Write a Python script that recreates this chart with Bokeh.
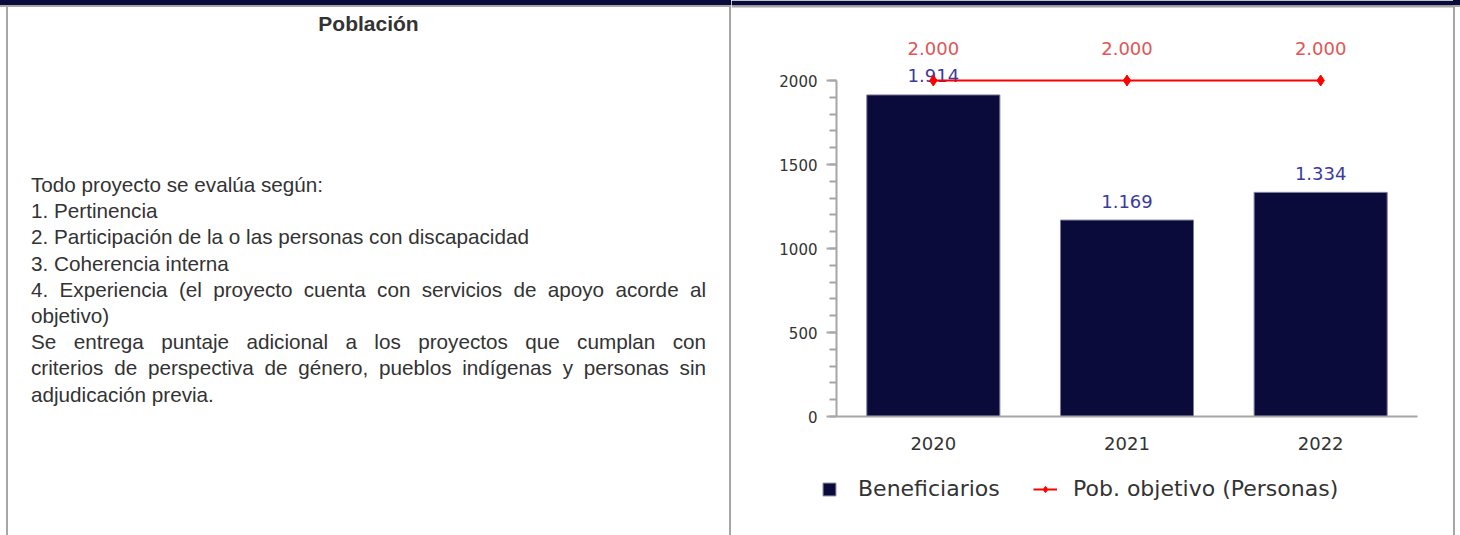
from bokeh.plotting import figure
from bokeh.models import (Div, Range1d, LinearAxis, SingleIntervalTicker, FixedTicker,
                          Legend, LegendItem, ColumnDataSource, BoxAnnotation)
from bokeh.layouts import row
from bokeh.core.properties import value
from bokeh.embed import file_html
from bokeh.resources import INLINE

# ---------------- data ----------------
years = ["2020", "2021", "2022"]
beneficiarios = [1914, 1169, 1334]
objetivo = [2000, 2000, 2000]
y_axis_max = 2000
y_tick_interval = 500
legend_labels = ["Beneficiarios", "Pob. objetivo (Personas)"]

title_text = "Población"
body_lines = [
    "Todo proyecto se evalúa según:",
    "1. Pertinencia",
    "2. Participación de la o las personas con discapacidad",
    "3. Coherencia interna",
    "4. Experiencia (el proyecto cuenta con servicios de apoyo acorde al",
    "objetivo)",
    "Se entrega puntaje adicional a los proyectos que cumplan con",
    "criterios de perspectiva de género, pueblos indígenas y personas sin",
    "adjudicación previa.",
]
body_justified = [False, False, False, False, True, False, True, True, False]


def fmt(v):
    return f"{v:,}".replace(",", ".")


# category positions on the numeric axis (centre of each category slot)
x_pos = [i + 0.5 for i in range(len(years))]

src = ColumnDataSource(dict(
    x=x_pos,
    ben=beneficiarios,
    obj=objetivo,
    ben_lbl=[fmt(v) for v in beneficiarios],
    obj_lbl=[fmt(v) for v in objetivo],
))

# ---------------- geometry ----------------
W, H = 1460, 535
LEFT_W = 731
RIGHT_W = 7
FIG_W = W - LEFT_W - RIGHT_W
BAND = 5          # dark header band height
RULE = 2          # grey rule below the band
HDR = BAND + RULE
axis_x_px, axis_x_end_px = 836, 1417       # y-axis position / end of x-axis (page px)
zero_px, max_px = 416, 80                  # y=0 and y=max (page px)
cat_px = (axis_x_end_px - axis_x_px) / len(years)
x_start = -(axis_x_px - LEFT_W) / cat_px
x_end = x_start + FIG_W / cat_px
ppu = (zero_px - max_px) / y_axis_max
y_end = zero_px / ppu
y_start = -(H - zero_px) / ppu

GRAY = "#a6a6a6"
NAVY = "#0b0b3b"

# ---------------- chart ----------------
p = figure(x_range=Range1d(x_start, x_end), y_range=Range1d(y_start, y_end),
           width=FIG_W, height=H, output_backend="svg",
           toolbar_location=None, x_axis_location=None, y_axis_location=None,
           min_border=0, margin=(0, 0, 0, 0))
p.outline_line_color = None
p.grid.visible = False
p.background_fill_color = "white"
p.border_fill_color = "white"

# header band of the table
p.add_layout(BoxAnnotation(top=0, bottom=BAND, left=0, right=FIG_W,
                           top_units="canvas", bottom_units="canvas",
                           left_units="canvas", right_units="canvas",
                           fill_color=NAVY, fill_alpha=1, line_color=None))
p.add_layout(BoxAnnotation(top=BAND, bottom=HDR, left=0, right=FIG_W,
                           top_units="canvas", bottom_units="canvas",
                           left_units="canvas", right_units="canvas",
                           fill_color=GRAY, fill_alpha=1, line_color=None))

bars = p.vbar(x="x", top="ben", width=0.687, source=src,
              fill_color=NAVY, line_color="#7a7a9a", line_width=1)
p.text(x="x", y="ben", text="ben_lbl", source=src, text_align="center",
       text_baseline="middle", y_offset=-19, text_font=value("DejaVu Sans"),
       text_font_size="18px", text_color="#3a3aa0")
line_r = p.line(x="x", y="obj", source=src, line_color="#ff0000", line_width=2)
dots_r = p.scatter(x="x", y="obj", source=src, marker="diamond", size=11,
                   fill_color="#ff0000", line_color="#ff0000")
p.text(x="x", y="obj", text="obj_lbl", source=src, text_align="center",
       text_baseline="middle", y_offset=-32, text_font=value("DejaVu Sans"),
       text_font_size="18px", text_color="#e05555")

yax = LinearAxis(fixed_location=0, bounds=(0, y_axis_max),
                 ticker=SingleIntervalTicker(interval=y_tick_interval, num_minor_ticks=5))
yax.axis_line_color = GRAY
yax.axis_line_width = 2
yax.major_tick_line_color = GRAY
yax.major_tick_line_width = 2
yax.minor_tick_line_color = GRAY
yax.minor_tick_line_width = 2
yax.major_tick_in = 0
yax.major_tick_out = 10
yax.minor_tick_in = 0
yax.minor_tick_out = 7
yax.major_label_standoff = 9
yax.major_label_text_font = "DejaVu Sans"
yax.major_label_text_font_size = "15px"
yax.major_label_text_color = "#333333"
p.add_layout(yax, "left")

xax = LinearAxis(fixed_location=0, bounds=(0, len(years)),
                 ticker=FixedTicker(ticks=x_pos, minor_ticks=[]),
                 major_label_overrides={xp: yr for xp, yr in zip(x_pos, years)})
xax.axis_line_color = GRAY
xax.axis_line_width = 2
xax.major_tick_line_color = None
xax.major_tick_in = 0
xax.major_tick_out = 0
xax.minor_tick_line_color = None
xax.major_label_standoff = 20
xax.major_label_text_font = "DejaVu Sans"
xax.major_label_text_font_size = "18px"
xax.major_label_text_color = "#333333"
p.add_layout(xax, "below")

common_leg = dict(orientation="horizontal", padding=0, margin=0,
                  border_line_color=None, background_fill_alpha=0,
                  label_text_font="DejaVu Sans", label_text_font_size="22px",
                  label_text_color="#333333")
leg1 = Legend(items=[LegendItem(label=legend_labels[0], renderers=[bars])],
              location=(90, 34), glyph_width=16, glyph_height=16,
              label_standoff=21, **common_leg)
leg2 = Legend(items=[LegendItem(label=legend_labels[1], renderers=[line_r, dots_r])],
              location=(302, 34), glyph_width=24, glyph_height=16,
              label_standoff=16, **common_leg)
p.add_layout(leg1, "center")
p.add_layout(leg2, "center")

# ---------------- left cell (HTML) ----------------
lines_html = "".join(
    f'<div style="white-space:nowrap;{"text-align:justify;text-align-last:justify;" if j else ""}">{t}</div>'
    for t, j in zip(body_lines, body_justified)
)
left_html = f'''<div style="position:relative;width:{LEFT_W}px;height:{H}px;overflow:hidden;font-family:'Liberation Sans',Arial,sans-serif;color:#333333;background:white;">
<div style="position:absolute;left:0;top:0;width:{LEFT_W}px;height:{BAND}px;background:{NAVY};"></div>
<div style="position:absolute;left:0;top:{BAND}px;width:{LEFT_W}px;height:{RULE}px;background:{GRAY};"></div>
<div style="position:absolute;left:6px;top:{HDR}px;width:2px;height:{H - HDR}px;background:{GRAY};"></div>
<div style="position:absolute;left:729px;top:{HDR}px;width:2px;height:{H - HDR}px;background:{GRAY};"></div>
<div style="position:absolute;left:8px;top:11px;width:721px;text-align:center;font-size:21px;line-height:26px;font-weight:bold;">{title_text}</div>
<div style="position:absolute;left:31px;top:172px;width:675px;font-size:20.7px;line-height:26.2px;">{lines_html}</div>
</div>'''
left_div = Div(text=left_html, width=LEFT_W, height=H, margin=(0, 0, 0, 0))

right_html = f'''<div style="position:relative;width:{RIGHT_W}px;height:{H}px;overflow:hidden;background:white;">
<div style="position:absolute;left:0;top:0;width:{RIGHT_W}px;height:{BAND}px;background:{NAVY};"></div>
<div style="position:absolute;left:0;top:{BAND}px;width:{RIGHT_W}px;height:{RULE}px;background:{GRAY};"></div>
<div style="position:absolute;left:0;top:{HDR}px;width:2px;height:{H - HDR}px;background:{GRAY};"></div>
</div>'''
right_div = Div(text=right_html, width=RIGHT_W, height=H, margin=(0, 0, 0, 0))

layout = row(left_div, p, right_div, spacing=0)

open("out.html", "w").write(file_html(layout, INLINE))
